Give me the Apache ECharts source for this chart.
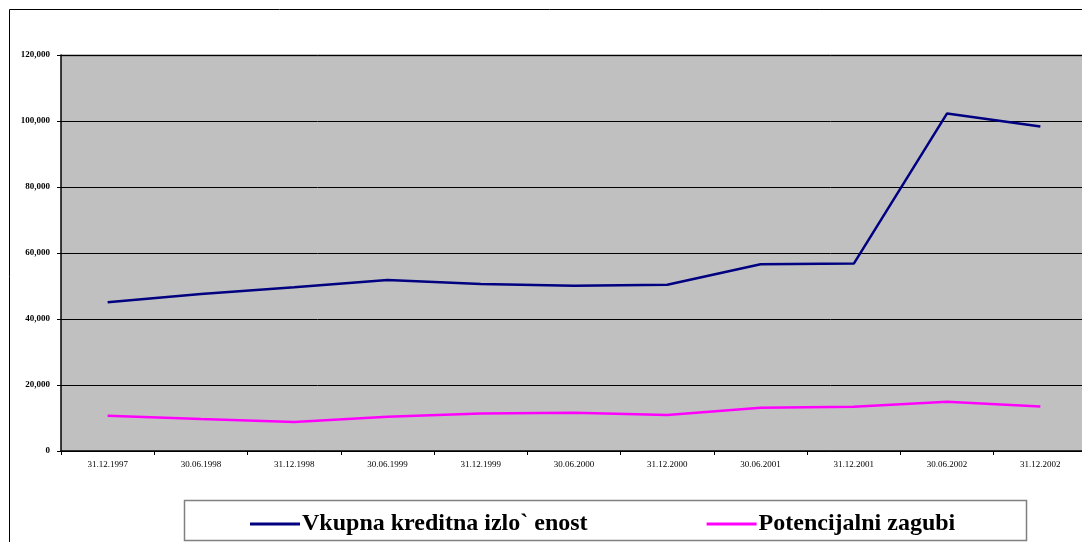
<!DOCTYPE html>
<html>
<head>
<meta charset="utf-8">
<script src="https://cdn.jsdelivr.net/npm/echarts@6/dist/echarts.min.js"></script>
<style>
  html, body { margin: 0; padding: 0; background: #fff; overflow: hidden; }
  #chart { width: 1088px; height: 542px; }
</style>
</head>
<body>
<div id="chart"></div>
<script>
// datumi poročanja
var dates = ['31.12.1997', '30.06.1998', '31.12.1998', '30.06.1999', '31.12.1999', '30.06.2000',
             '31.12.2000', '30.06.2001', '31.12.2001', '30.06.2002', '31.12.2002'];
var kreditnaIzpostavljenost = [45100, 47600, 49600, 51800, 50600, 50100, 50400, 56600, 56800, 102300, 98300];
var potencialniZagubi = [10700, 9700, 8800, 10400, 11400, 11600, 10900, 13100, 13400, 14900, 13500];
var seriesNames = ['Vkupna kreditna izlo` enost', 'Potencijalni zagubi'];
var yTicks = { min: 0, max: 120000, interval: 20000 };

// platno je malo širše od okna, da ploskev sega čez desni rob kot v izvirniku
var chart = echarts.init(document.getElementById('chart'));
var serif = '"Liberation Serif", "DejaVu Serif", serif';

var option = {
    backgroundColor: '#ffffff',
    animation: false,
    grid: {
        left: 61,
        right: 1,
        top: 55,
        bottom: 91,
        show: true,
        backgroundColor: '#c0c0c0',
        borderWidth: 0
    },
    graphic: [
        {   // okvir grafa
            type: 'rect',
            shape: { x: 9.5, y: 9.5, width: 1200, height: 700 },
            style: { fill: 'none', stroke: '#000', lineWidth: 1 },
            z: -1
        },
        {   // zgornja meja ploskve
            type: 'line',
            shape: { x1: 61, y1: 55.5, x2: 1088, y2: 55.5 },
            style: { stroke: '#808080', lineWidth: 2 }
        },
        {   // okvir legende
            type: 'rect',
            shape: { x: 184.5, y: 500.5, width: 842, height: 40 },
            style: { fill: '#fff', stroke: '#808080', lineWidth: 1.5 }
        }
    ],
    legend: {
        data: seriesNames,
        left: 245,
        top: 507,
        itemWidth: 50,
        itemHeight: 3,
        itemGap: 119,
        icon: 'rect',
        textStyle: {
            fontFamily: serif,
            fontWeight: 'bold',
            fontSize: 24,
            color: '#000',
            padding: [0, 0, 0, -3]
        }
    },
    xAxis: {
        type: 'category',
        data: dates,
        boundaryGap: true,
        axisLine: { lineStyle: { color: '#000', width: 1.5 } },
        axisTick: { show: true, length: 4, lineStyle: { color: '#000' } },
        axisLabel: {
            fontFamily: serif,
            fontSize: 9,
            color: '#000',
            margin: 9
        },
        splitLine: { show: false }
    },
    yAxis: {
        type: 'value',
        min: yTicks.min,
        max: yTicks.max,
        interval: yTicks.interval,
        axisLine: { show: true, lineStyle: { color: '#000', width: 1.5 } },
        axisTick: { show: true, length: 4, lineStyle: { color: '#000' } },
        axisLabel: {
            fontFamily: serif,
            fontWeight: 'bold',
            fontSize: 9,
            color: '#000',
            margin: 11,
            formatter: function (v) {
                return v.toLocaleString('en-US');
            }
        },
        splitLine: { show: true, lineStyle: { color: '#000', width: 1 } }
    },
    series: [
        {
            name: seriesNames[0],
            type: 'line',
            data: kreditnaIzpostavljenost,
            symbol: 'none',
            lineStyle: { color: '#000080', width: 2.5 },
            itemStyle: { color: '#000080' }
        },
        {
            name: seriesNames[1],
            type: 'line',
            data: potencialniZagubi,
            symbol: 'none',
            lineStyle: { color: '#ff00ff', width: 2.5 },
            itemStyle: { color: '#ff00ff' }
        }
    ]
};
chart.setOption(option);
</script>
</body>
</html>
